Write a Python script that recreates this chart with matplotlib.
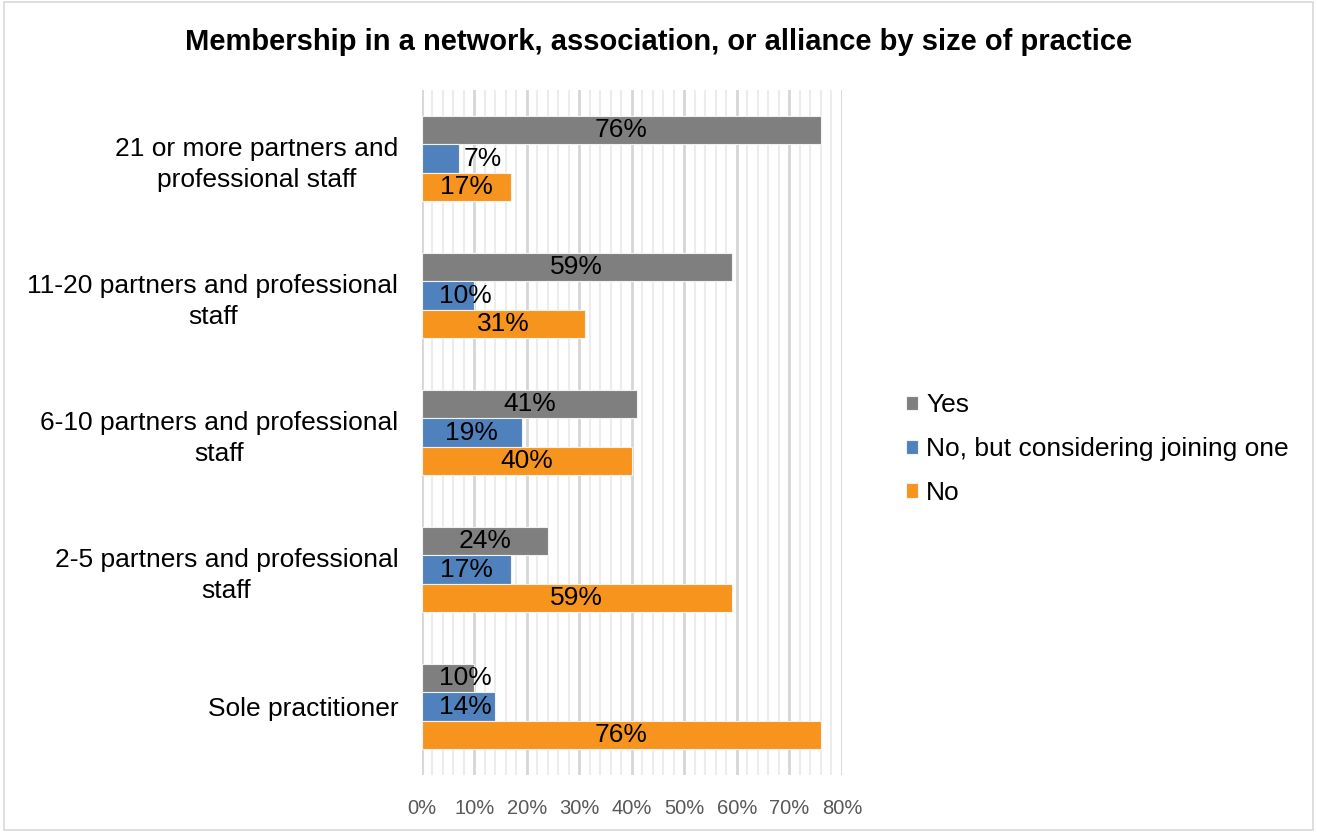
import numpy as np
import matplotlib.pyplot as plt
from matplotlib.patches import Rectangle
from matplotlib.ticker import MultipleLocator, FuncFormatter

plt.rcParams['font.family'] = ['Liberation Sans', 'DejaVu Sans']

categories = ['Sole practitioner',
              '2-5 partners and professional\nstaff',
              '6-10 partners and professional\nstaff',
              '11-20 partners and professional\nstaff',
              '21 or more partners and\nprofessional staff']
series = ['Yes', 'No, but considering joining one', 'No']
yes = [10, 24, 41, 59, 76]
considering = [14, 17, 19, 10, 7]
no = [76, 59, 40, 31, 17]
colors = ['#7f7f7f', '#4f81bd', '#f7941e']

fig = plt.figure(figsize=(13.17, 8.32), dpi=100)
ax = fig.add_axes([0.3204, 0.0685, 0.3189, 0.8233])

y = np.arange(len(categories))
h = 0.208
offsets = [h, 0, -h]
values = [yes, considering, no]

for vals, off, col, name in zip(values, offsets, colors, series):
    ax.barh(y + off, vals, height=h, color=col, label=name,
            edgecolor='#f2f2f2', linewidth=0.8, zorder=3)
    for yi, v in zip(y, vals):
        # short bars: keep label clear of the axis, tiny ones go past the end
        if v < 8:
            x = v + 4.5
        else:
            x = max(v / 2, 8.3)
        ax.text(x, yi + off, f'{v}%', ha='center', va='center',
                fontsize=19, color='black', zorder=4)

ax.set_xlim(0, 80)
ax.set_ylim(-0.5, len(categories) - 0.5)
ax.xaxis.set_major_locator(MultipleLocator(10))
ax.xaxis.set_minor_locator(MultipleLocator(2))
ax.xaxis.set_major_formatter(FuncFormatter(lambda v, p: f'{v:.0f}%'))
ax.grid(axis='x', which='major', color='#d6d6d6', linewidth=2.0, zorder=0)
ax.grid(axis='x', which='minor', color='#ececec', linewidth=1.5, zorder=0)
for s in ax.spines.values():
    s.set_visible(False)
ax.tick_params(axis='both', which='both', length=0)
ax.tick_params(axis='x', labelsize=14.5, labelcolor='#595959', pad=17.5)
ax.set_yticks(y)
ax.set_yticklabels(categories, fontsize=19, color='black', linespacing=1.37)
ax.tick_params(axis='y', pad=17)
for t in ax.get_yticklabels():
    t.set_multialignment('center')

fig.suptitle('Membership in a network, association, or alliance by size of practice',
             x=0.5, y=0.949, va='center', fontsize=21, fontweight='bold')

fig.legend(loc='center left', bbox_to_anchor=(0.680, 0.46), frameon=False,
           fontsize=19, handlelength=0.46, handleheight=0.46,
           handletextpad=0.3, labelspacing=0.75, borderaxespad=0)

fig.patches.append(Rectangle((0.003, 0.003), 0.994, 0.994, transform=fig.transFigure,
                             fill=False, edgecolor='#d9d9d9', linewidth=1.2))

fig.savefig('out.png', dpi=100)
